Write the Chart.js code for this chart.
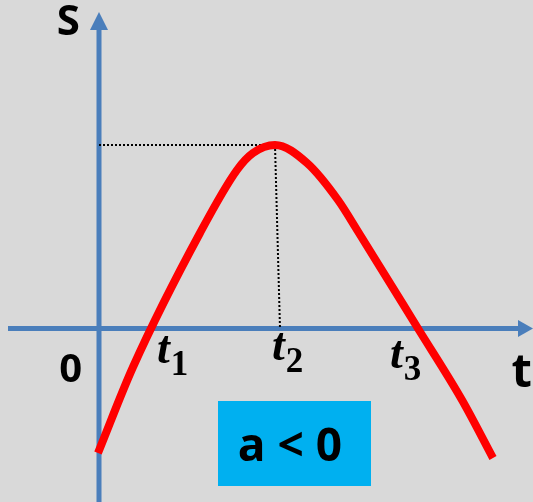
<!DOCTYPE html>
<html>
<head>
<meta charset="utf-8">
<script src="https://cdn.jsdelivr.net/npm/chart.js@4"></script>
<style>
html,body{margin:0;padding:0;background:#d9d9d9;overflow:hidden;}
#wrap{position:relative;width:533px;height:502px;}
</style>
</head>
<body>
<div id="wrap"><canvas id="c"></canvas></div>
<script>
// Curve S(t) (arbitrary units)
const tValues = [-0.1, 3.4, 10.1, 13.8, 15.4, 17.6, 20.8, 23.9, 25.9, 31.9, 36.3, 39.4];
const sValues = [-12.45, -3.85, 9.55, 15.85, 17.55, 18.35, 16.55, 12.85, 9.7, 0, -7.15, -12.95];
// Peak (t2, Smax) and foot of its guide line
const peakT = 17.6;
const peakS = 18.35;
const footT = 18.1;
// Axis ranges
const tRange = [-9.9, 43.4];
const sRange = [-17.35, 32.85];
// Text labels
const axisLabelS = 'S';
const axisLabelT = 't';
const originLabel = '0';
const rootLabels = [['t','1'], ['t','2'], ['t','3']];
const rootLabelT = [5.8, 17.3, 29.1];
const boxText = 'a < 0';

const curve = tValues.map((t, i) => ({x: t, y: sValues[i]}));

const BLUE = '#4a7ebb';

const overlay = {
  id: 'overlay',
  beforeDraw(chart) {
    const {ctx, width, height} = chart;
    ctx.save();
    ctx.fillStyle = '#d9d9d9';
    ctx.fillRect(0, 0, width, height);
    ctx.restore();
  },
  beforeDatasetsDraw(chart) {
    const {ctx, scales:{x, y}, width, height} = chart;
    const ox = x.getPixelForValue(0);
    const oy = y.getPixelForValue(0);
    ctx.save();
    ctx.strokeStyle = BLUE;
    ctx.fillStyle = BLUE;
    ctx.lineWidth = 5;
    // vertical axis
    ctx.beginPath();
    ctx.moveTo(ox, height);
    ctx.lineTo(ox, 29);
    ctx.stroke();
    ctx.beginPath();
    ctx.moveTo(ox, 12);
    ctx.lineTo(ox - 9, 30);
    ctx.lineTo(ox + 9, 30);
    ctx.closePath();
    ctx.fill();
    // horizontal axis
    ctx.beginPath();
    ctx.moveTo(8, oy);
    ctx.lineTo(width - 14, oy);
    ctx.stroke();
    ctx.beginPath();
    ctx.moveTo(width, oy);
    ctx.lineTo(width - 15, oy - 8.5);
    ctx.lineTo(width - 15, oy + 8.5);
    ctx.closePath();
    ctx.fill();
    ctx.restore();
  },
  afterDraw(chart) {
    const {ctx, scales:{x, y}, width} = chart;
    const ox = x.getPixelForValue(0);
    const oy = y.getPixelForValue(0);
    ctx.save();
    ctx.fillStyle = '#000';
    ctx.textBaseline = 'alphabetic';
    ctx.font = 'bold 42px "Open Sans"';
    ctx.textAlign = 'right';
    ctx.fillText(axisLabelS, ox - 19, 35);
    ctx.font = 'bold 40px "Open Sans"';
    ctx.fillText(originLabel, ox - 17, oy + 53);
    ctx.font = 'bold 47px "Open Sans"';
    ctx.fillText(axisLabelT, width - 1, oy + 58);
    // root labels t1 t2 t3
    const baseOff = [34, 31, 39];
    ctx.textAlign = 'left';
    rootLabels.forEach((lab, i) => {
      const px = x.getPixelForValue(rootLabelT[i]);
      const by = oy + baseOff[i];
      ctx.font = 'italic bold 46px "Liberation Serif"';
      ctx.fillText(lab[0], px, by);
      const w = ctx.measureText(lab[0]).width;
      ctx.font = 'bold 35px "Liberation Serif"';
      ctx.fillText(lab[1], px + w + 1, by + 12);
    });
    // box
    ctx.fillStyle = '#00b0f0';
    ctx.fillRect(218, 401, 153, 85);
    ctx.fillStyle = '#000';
    ctx.font = 'bold 46px "Open Sans"';
    ctx.textAlign = 'center';
    ctx.fillText(boxText, 290, 461);
    ctx.restore();
  }
};

new Chart(document.getElementById('c'), {
  type: 'line',
  data: {
    datasets: [
      {
        data: [{x: 0, y: peakS}, {x: peakT, y: peakS}],
        borderColor: '#000', borderWidth: 2, borderDash: [2, 2],
        pointRadius: 0, tension: 0, order: 2
      },
      {
        data: [{x: peakT, y: peakS}, {x: footT, y: 0}],
        borderColor: '#000', borderWidth: 2, borderDash: [2, 2],
        pointRadius: 0, tension: 0, order: 2
      },
      {
        data: curve,
        borderColor: '#ff0000', borderWidth: 8,
        pointRadius: 0, cubicInterpolationMode: 'monotone',
        borderCapStyle: 'butt', order: 1
      }
    ]
  },
  options: {
    responsive: true,
    maintainAspectRatio: false,
    animation: false,
    layout: {padding: 0},
    plugins: {legend: {display: false}, tooltip: {enabled: false}},
    scales: {
      x: {type: 'linear', min: tRange[0], max: tRange[1], display: false},
      y: {type: 'linear', min: sRange[0], max: sRange[1], display: false}
    }
  },
  plugins: [overlay]
});
</script>
</body>
</html>
